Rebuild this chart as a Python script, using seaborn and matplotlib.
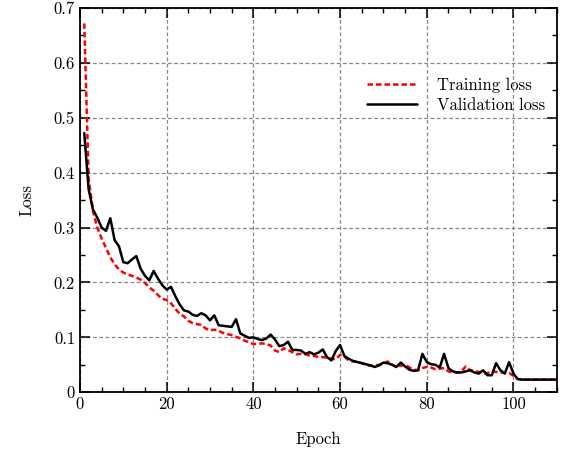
import matplotlib
matplotlib.use("Agg")
import matplotlib.pyplot as plt
import seaborn as sns
import numpy as np
import pandas as pd
from matplotlib.ticker import MultipleLocator, FuncFormatter

# ========== 数据 ==========
epochs = list(range(1, 111))

train_loss = [
    0.672, 0.390, 0.330, 0.300, 0.280, 0.263, 0.246, 0.233, 0.224, 0.218,
    0.215, 0.212, 0.209, 0.205, 0.199, 0.191, 0.185, 0.177, 0.170, 0.168,
    0.162, 0.152, 0.143, 0.138, 0.130, 0.126, 0.124, 0.123, 0.116, 0.113,
    0.114, 0.112, 0.108, 0.106, 0.104, 0.101, 0.098, 0.094, 0.091, 0.088,
    0.088, 0.089, 0.088, 0.085, 0.076, 0.073, 0.080, 0.077, 0.073, 0.069,
    0.070, 0.069, 0.067, 0.066, 0.064, 0.064, 0.063, 0.061, 0.060, 0.068,
    0.065, 0.058, 0.056, 0.055, 0.053, 0.050, 0.048, 0.049, 0.050, 0.052,
    0.056, 0.050, 0.046, 0.048, 0.051, 0.045, 0.041, 0.040, 0.044, 0.046,
    0.045, 0.042, 0.043, 0.044, 0.038, 0.036, 0.036, 0.038, 0.047, 0.040,
    0.039, 0.037, 0.034, 0.035, 0.038, 0.037, 0.036, 0.035, 0.035, 0.030,
    0.024, 0.023, 0.023, 0.023, 0.023, 0.023, 0.023, 0.023, 0.023, 0.023,
]

val_loss = [
    0.472, 0.370, 0.333, 0.318, 0.300, 0.294, 0.317, 0.277, 0.266, 0.237,
    0.235, 0.242, 0.248, 0.225, 0.212, 0.204, 0.221, 0.207, 0.195, 0.187,
    0.192, 0.175, 0.160, 0.149, 0.147, 0.141, 0.139, 0.144, 0.140, 0.131,
    0.140, 0.122, 0.121, 0.120, 0.119, 0.133, 0.107, 0.103, 0.099, 0.100,
    0.097, 0.095, 0.098, 0.105, 0.096, 0.084, 0.086, 0.092, 0.077, 0.077,
    0.076, 0.070, 0.073, 0.069, 0.072, 0.078, 0.064, 0.058, 0.075, 0.086,
    0.066, 0.061, 0.057, 0.055, 0.053, 0.051, 0.049, 0.046, 0.049, 0.054,
    0.053, 0.050, 0.046, 0.054, 0.047, 0.041, 0.039, 0.040, 0.070, 0.055,
    0.051, 0.050, 0.045, 0.070, 0.044, 0.038, 0.036, 0.036, 0.038, 0.040,
    0.036, 0.034, 0.040, 0.031, 0.031, 0.053, 0.040, 0.034, 0.055, 0.034,
    0.024, 0.023, 0.023, 0.023, 0.023, 0.023, 0.023, 0.023, 0.023, 0.023,
]

series_names = ["Training loss", "Validation loss"]

# ========== 样式 ==========
sns.set_theme(style="ticks")
plt.rcParams["font.family"] = ["cmr10", "DejaVu Serif"]
plt.rcParams["mathtext.fontset"] = "cm"
plt.rcParams["axes.formatter.use_mathtext"] = True
plt.rcParams["font.size"] = 12
for k in ["text.color", "axes.labelcolor", "xtick.color", "ytick.color", "axes.edgecolor"]:
    plt.rcParams[k] = "black"

fig = plt.figure(figsize=(5.67, 4.72), dpi=100)
ax = fig.add_axes([0.141, 0.169, 0.841, 0.814])

df = pd.DataFrame({"Epoch": epochs, series_names[0]: train_loss, series_names[1]: val_loss})

sns.lineplot(data=df, x="Epoch", y=series_names[0], ax=ax, color="#ff0000",
             linewidth=1.8, linestyle=(0, (2.2, 1.2)), label=series_names[0])
sns.lineplot(data=df, x="Epoch", y=series_names[1], ax=ax, color="black",
             linewidth=1.8, label=series_names[1])

ax.set_xlim(0, 110)
ax.set_ylim(0, 0.7)
ax.xaxis.set_major_locator(MultipleLocator(20))
ax.xaxis.set_minor_locator(MultipleLocator(5))
ax.yaxis.set_major_locator(MultipleLocator(0.1))
ax.yaxis.set_minor_locator(MultipleLocator(0.05))
fmt = FuncFormatter(lambda v, p: "0" if abs(v) < 1e-9 else f"{v:g}")
ax.xaxis.set_major_formatter(fmt)
ax.yaxis.set_major_formatter(fmt)

ax.tick_params(which="both", direction="in", top=True, right=True, labelsize=12, colors="black")
ax.tick_params(which="major", length=7, width=1.1)
ax.tick_params(which="minor", length=3.5, width=1.0)
for s in ax.spines.values():
    s.set_linewidth(1.3)
    s.set_color("black")

ax.grid(True, which="major", color="#888888", linestyle=(0, (3, 2)), linewidth=0.9)
ax.set_axisbelow(True)

ax.set_xlabel("Epoch", fontsize=12, labelpad=14)
ax.set_ylabel("Loss", fontsize=12, labelpad=14)

leg = ax.legend(loc="upper right", bbox_to_anchor=(1.0, 0.85), frameon=False,
                handlelength=3.0, handletextpad=1.2, labelspacing=0.3, fontsize=12,
                borderaxespad=0.3)

fig.savefig("out.png", dpi=100)
